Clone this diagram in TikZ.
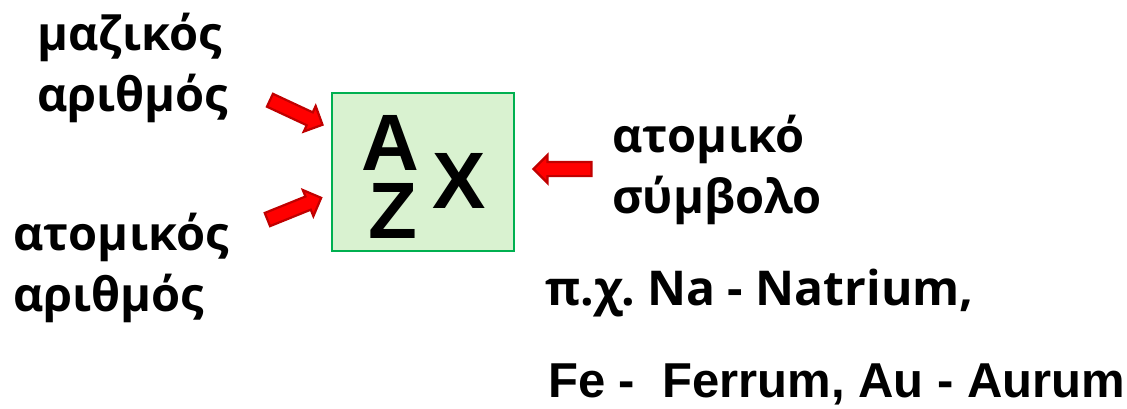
\documentclass[tikz,border=0pt]{standalone}
\usepackage{fontspec}
\setmainfont{Open Sans}
\newfontfamily\arialfont{Liberation Sans}
\usetikzlibrary{shapes.arrows}
\frenchspacing
\definecolor{boxgreen}{HTML}{00B050}
\definecolor{boxfill}{HTML}{D9F2D0}
\definecolor{arrred}{HTML}{FF0000}
\definecolor{arrdark}{HTML}{C00000}
\tikzset{
  label/.style={inner sep=0pt, align=left, anchor=west, font=\bfseries\fontsize{47}{61}\selectfont},
  redarrow/.style={single arrow, draw=arrdark, line width=2.2pt, fill=arrred, inner sep=6pt,
    single arrow head extend=7pt, minimum height=58pt, anchor=center},
  bigletter/.style={inner sep=0pt, anchor=base, text height=57pt, text depth=0pt, font=\arialfont\bfseries\fontsize{80}{80}\selectfont},
}
\begin{document}
\begin{tikzpicture}[x=1pt,y=-1pt]
\useasboundingbox (0,0) rectangle (1127,408);
\node[draw=boxgreen, line width=2.2pt, fill=boxfill, minimum width=182pt, minimum height=158pt, inner sep=0pt] (box) at (423,172) {};
\node[bigletter] (A) at (390,170) {A};
\node[bigletter] (Z) at (393,238) {Z};
\node[bigletter] (X) at (459,208) {X};
\node[label] (mass) at (37,68) {μαζικός\\αριθμός};
\node[label] (atnum) at (13,268) {ατομικός\\αριθμός};
\node[label] (sym) at (612,170) {ατομικό\\σύμβολο};
\node[label, anchor=base west, font=\bfseries\fontsize{48}{48}\selectfont] (eg1) at (545,305) {π.χ. Na - Natrium,};
\node[label, anchor=base west, font=\arialfont\bfseries\fontsize{49}{49}\selectfont] (eg2) at (548,397) {Fe -\ \ Ferrum, Au - Aurum};
\node[redarrow, rotate=-25] (a1) at (293,111) {};
\node[redarrow, rotate=22] (a2) at (291,210) {};
\node[redarrow, rotate=180] (a3) at (566,169) {};
\end{tikzpicture}
\end{document}
